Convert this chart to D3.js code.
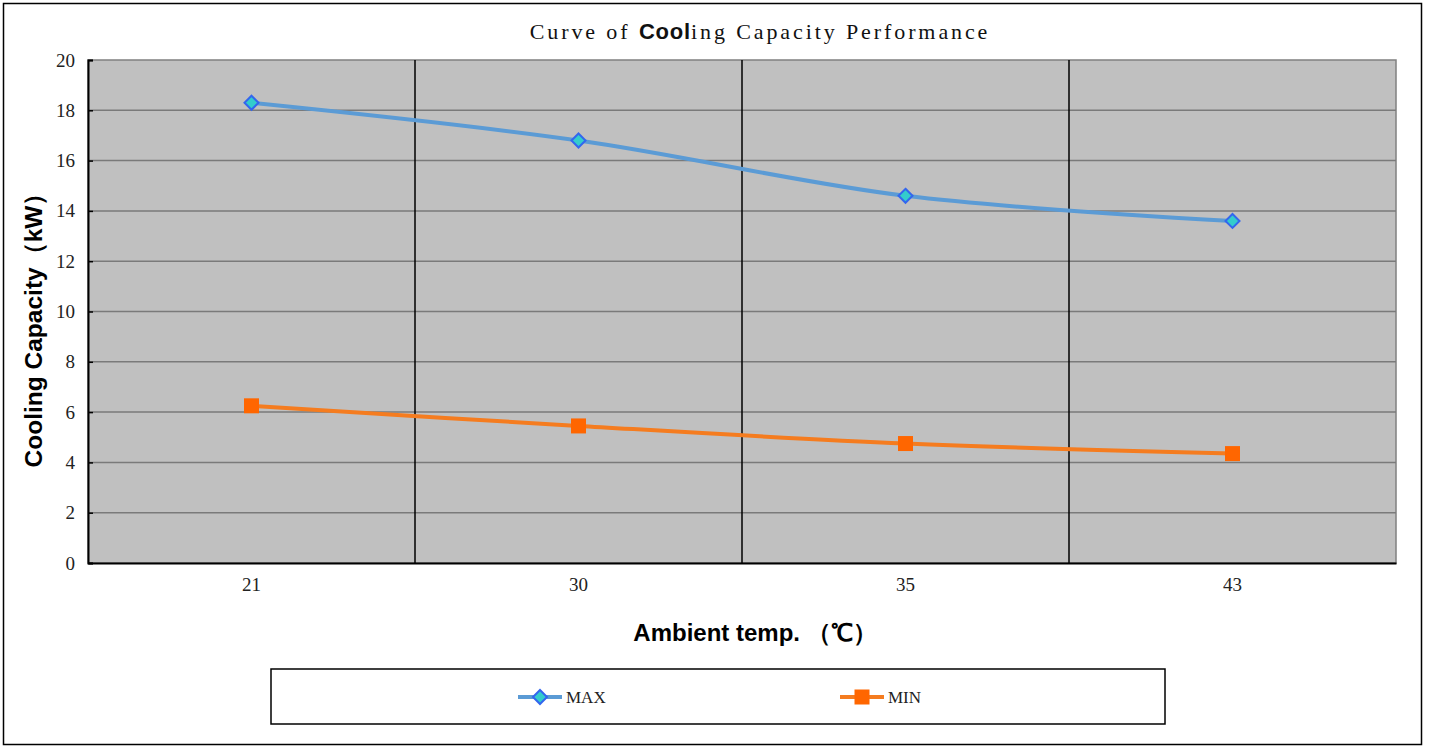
<!DOCTYPE html>
<html><head><meta charset="utf-8">
<script src="https://cdn.jsdelivr.net/npm/d3@7/dist/d3.min.js"></script>
<style>body{margin:0;background:#fff}svg{display:block}</style>
</head><body>
<svg id="c" width="1429" height="749"></svg>
<script>
const categories = ["21", "30", "35", "43"];
const maxValues = [18.3, 16.8, 14.6, 13.6];
const minValues = [6.25, 5.45, 4.75, 4.35];
const yTicks = [0, 2, 4, 6, 8, 10, 12, 14, 16, 18, 20];
const seriesNames = ["MAX", "MIN"];

const svg = d3.select("#c");
const L = 88, R = 1396, T = 60, B = 563;
const serif = "'Liberation Serif','DejaVu Serif',serif";
const sans = "'Liberation Sans',Arial,sans-serif";

svg.append("rect").attr("x", 3.5).attr("y", 3.5).attr("width", 1418).attr("height", 741)
  .attr("fill", "#fff").attr("stroke", "#000").attr("stroke-width", 1.5);

const x = d3.scaleBand().domain(categories).range([L, R]);
const y = d3.scaleLinear().domain([0, 20]).range([B, T]);

svg.append("rect").attr("x", L).attr("y", T).attr("width", R - L).attr("height", B - T)
  .attr("fill", "#c0c0c0").attr("stroke", "#808080").attr("stroke-width", 1.5);

svg.append("g").selectAll("line").data(yTicks.filter(d => d > 0 && d < 20)).join("line")
  .attr("x1", L).attr("x2", R).attr("y1", d => y(d)).attr("y2", d => y(d))
  .attr("stroke", "#7a7a7a").attr("stroke-width", 1.5);

svg.append("g").selectAll("line").data(categories.slice(1)).join("line")
  .attr("x1", d => x(d)).attr("x2", d => x(d)).attr("y1", T).attr("y2", B)
  .attr("stroke", "#000").attr("stroke-width", 1.5);

const yAxis = d3.axisLeft(y).tickValues(yTicks).tickSize(-5).tickPadding(13).tickFormat(d3.format("d"));
const gy = svg.append("g").attr("transform", `translate(${L},0)`).call(yAxis)
  .attr("font-family", null).attr("font-size", null);
gy.select(".domain").attr("stroke", "#000").attr("stroke-width", 2);
gy.selectAll(".tick line").attr("stroke", "#000").attr("stroke-width", 1.5);
gy.selectAll(".tick text").style("font-family", serif).style("font-size", "19px").attr("fill", "#222");

const xAxis = d3.axisBottom(x).tickSize(0).tickPadding(15);
const gx = svg.append("g").attr("transform", `translate(0,${B})`).call(xAxis)
  .attr("font-family", null).attr("font-size", null);
gx.select(".domain").attr("stroke", "#000").attr("stroke-width", 2);
gx.selectAll(".tick text").style("font-family", serif).style("font-size", "19px").attr("fill", "#222");

const cx = d => x(d) + x.bandwidth() / 2;
const line = d3.line().x(d => cx(d.c)).y(d => y(d.v)).curve(d3.curveCatmullRom.alpha(0.5));
const maxData = categories.map((c, i) => ({c, v: maxValues[i]}));
const minData = categories.map((c, i) => ({c, v: minValues[i]}));
const maxColor = "#5b9bd5", minColor = "#f57c1f";

svg.append("path").datum(maxData).attr("d", line).attr("fill", "none")
  .attr("stroke", maxColor).attr("stroke-width", 4);
svg.append("path").datum(minData).attr("d", line).attr("fill", "none")
  .attr("stroke", minColor).attr("stroke-width", 4);

const diamond = (g, px, py) => g.append("path")
  .attr("d", `M${px},${py - 7}L${px + 7},${py}L${px},${py + 7}L${px - 7},${py}Z`)
  .attr("fill", "#33cccc").attr("stroke", "#3366ee").attr("stroke-width", 2);
const square = (g, px, py) => g.append("rect")
  .attr("x", px - 7.5).attr("y", py - 7.5).attr("width", 15).attr("height", 15)
  .attr("fill", "#ff6600");

const mk = svg.append("g");
maxData.forEach(d => diamond(mk, cx(d.c), y(d.v)));
minData.forEach(d => square(mk, cx(d.c), y(d.v)));

const title = svg.append("text").attr("x", 760).attr("y", 39).attr("text-anchor", "middle")
  .style("font-family", serif).style("font-size", "22px").style("letter-spacing", "2.9px").attr("fill", "#111");
title.append("tspan").text("Curve of ");
title.append("tspan").style("font-family", sans).style("font-weight", "bold").style("letter-spacing", "0.8px").text("Cool");
title.append("tspan").text("ing Capacity Performance");

svg.append("text").attr("transform", "translate(42,324) rotate(-90)").attr("text-anchor", "middle")
  .style("font-family", sans).style("font-weight", "bold").style("font-size", "24.5px").attr("fill", "#000")
  .text("Cooling Capacity（kW）");
svg.append("text").attr("x", 755).attr("y", 641).attr("text-anchor", "middle")
  .style("font-family", sans).style("font-weight", "bold").style("font-size", "24px").attr("fill", "#000")
  .text("Ambient temp. （℃）");

svg.append("rect").attr("x", 271).attr("y", 669).attr("width", 894).attr("height", 55)
  .attr("fill", "#fff").attr("stroke", "#000").attr("stroke-width", 1.5);
const legX = [518, 840];
const legColors = [maxColor, minColor];
seriesNames.forEach((n, i) => {
  const g = svg.append("g");
  g.append("line").attr("x1", legX[i]).attr("x2", legX[i] + 44).attr("y1", 697).attr("y2", 697)
    .attr("stroke", legColors[i]).attr("stroke-width", 4);
  if (i === 0) diamond(g, legX[i] + 22, 697); else square(g, legX[i] + 22, 697);
  g.append("text").attr("x", legX[i] + 48).attr("y", 703).style("font-family", serif)
    .style("font-size", "17px").attr("fill", "#222").text(n);
});
</script>
</body></html>
